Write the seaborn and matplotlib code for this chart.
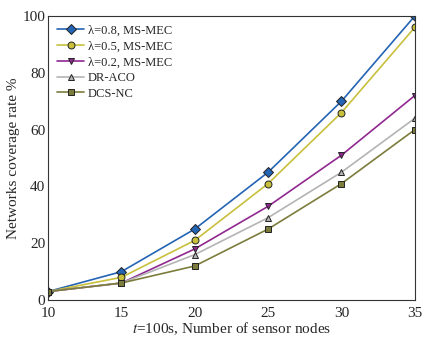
import matplotlib
matplotlib.use("Agg")
import matplotlib.pyplot as plt
import seaborn as sns
import pandas as pd

nodes = [10, 15, 20, 25, 30, 35]
lam08 = [3, 10, 25, 45, 70, 100]
lam05 = [3, 8, 21, 41, 66, 96]
lam02 = [3, 6, 18, 33, 51, 72]
dr_aco = [3, 6, 16, 29, 45, 64]
dcs_nc = [3, 6, 12, 25, 41, 60]

labels = ["λ=0.8, MS-MEC", "λ=0.5, MS-MEC", "λ=0.2, MS-MEC", "DR-ACO", "DCS-NC"]
series = [lam08, lam05, lam02, dr_aco, dcs_nc]
colors = ["#2464b4", "#c8c03c", "#902890", "#b4b4b4", "#7c7c3c"]
markers = ["D", "o", "v", "^", "s"]

sns.set_style("white")
plt.rcParams["font.family"] = ["Liberation Serif", "DejaVu Serif"]
plt.rcParams["mathtext.fontset"] = "stix"

fig = plt.figure(figsize=(4.25, 3.41), dpi=100)
ax = fig.add_axes([0.113, 0.12, 0.863, 0.833])

for lab, vals, c, m in zip(labels, series, colors, markers):
    df = pd.DataFrame({"x": nodes, "y": vals})
    sns.lineplot(data=df, x="x", y="y", ax=ax, color=c, marker=m, markersize=5,
                 markeredgecolor="#222222", markeredgewidth=0.7, linewidth=1.2, label=lab)

ax.set_xlim(10, 35)
ax.set_ylim(0, 100)
ax.set_xticks([10, 15, 20, 25, 30, 35])
ax.set_yticks([0, 20, 40, 60, 80, 100])
ax.tick_params(direction="in", length=3, labelsize=11, color="#333333")
ax.tick_params(axis="x", pad=5)
ax.tick_params(axis="y", pad=2)
for s in ax.spines.values():
    s.set_color("#333333")
    s.set_linewidth(0.8)
ax.set_xlabel("$\\it{t}$=100s, Number of sensor nodes", fontsize=11, labelpad=0)
ax.set_ylabel("Networks coverage rate %", fontsize=11, labelpad=2)
ax.legend(loc="upper left", frameon=False, fontsize=9, handlelength=2.2,
          labelspacing=0.3, borderaxespad=0.3, handletextpad=0.3)

fig.savefig("out.png", dpi=100)
